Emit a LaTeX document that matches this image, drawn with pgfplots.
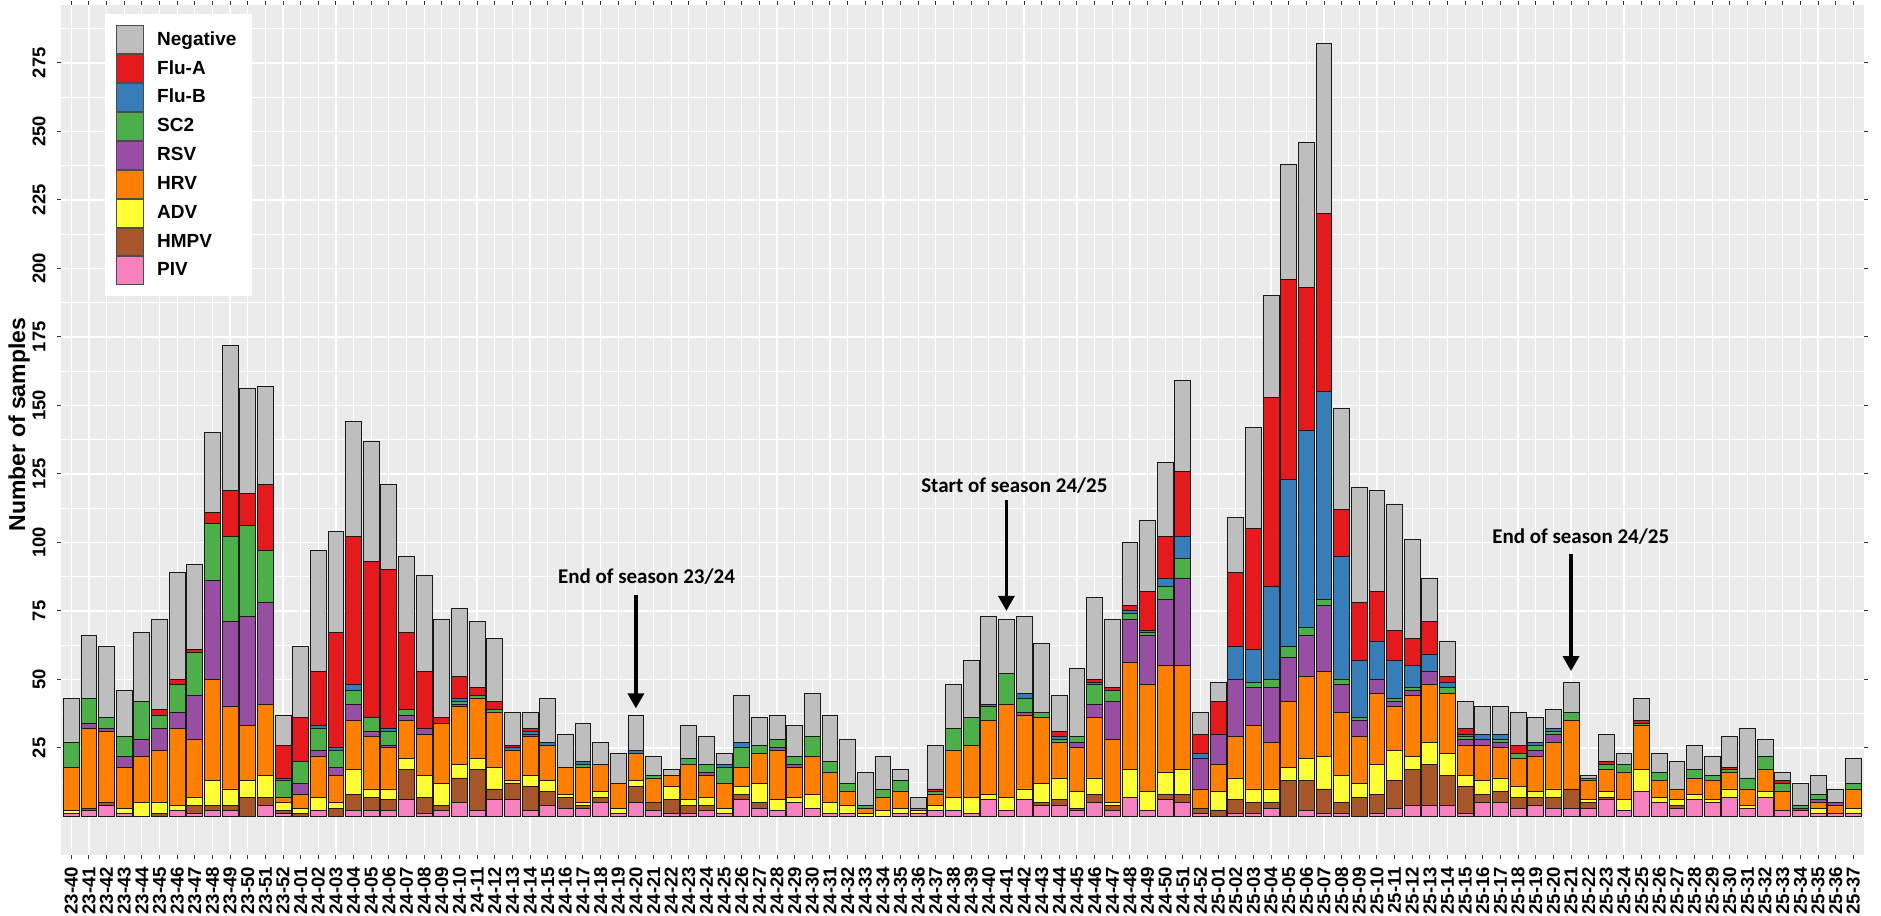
\documentclass[border=0pt]{standalone}
\usepackage{fontspec}
\setmainfont{Liberation Sans}
\newfontfamily\annofont{Carlito}
\usepackage{pgfplots}
\pgfplotsset{compat=1.18}
\usepackage{pgfplotstable}
\usetikzlibrary{arrows.meta}
\definecolor{cNeg}{HTML}{BEBEBE}
\definecolor{cFluA}{HTML}{E41A1C}
\definecolor{cFluB}{HTML}{377EB8}
\definecolor{cSC2}{HTML}{4DAF4A}
\definecolor{cRSV}{HTML}{984EA3}
\definecolor{cHRV}{HTML}{FF7F00}
\definecolor{cADV}{HTML}{FFFF33}
\definecolor{cHMPV}{HTML}{A65628}
\definecolor{cPIV}{HTML}{F781BF}
\definecolor{panel}{HTML}{EBEBEB}
\pgfplotstableread{
x piv hmpv adv hrv rsv sc2 flub flua neg
0 1 0 1 16 0 9 0 0 16
1 2 1 0 29 2 9 0 0 23
2 4 1 0 26 1 4 0 0 26
3 1 0 2 15 4 7 0 0 17
4 0 0 5 17 6 14 0 0 25
5 0 1 4 19 8 5 0 2 33
6 2 0 2 28 6 10 0 2 39
7 1 3 3 21 16 16 0 1 31
8 2 2 9 37 36 21 0 4 29
9 2 2 6 30 31 31 0 17 53
10 0 7 6 20 40 33 0 12 38
11 4 3 8 26 37 19 0 24 36
12 1 1 3 2 0 6 1 12 11
13 0 1 2 5 4 8 0 16 26
14 2 0 5 15 2 8 1 20 44
15 0 3 2 10 3 6 1 42 37
16 2 6 9 18 6 5 2 54 42
17 2 5 3 19 2 5 0 57 44
18 2 4 4 15 1 5 1 58 31
19 6 11 4 14 2 2 0 28 28
20 1 6 8 15 2 0 0 21 35
21 2 2 8 22 0 0 0 2 36
22 5 9 5 21 1 1 1 8 25
23 2 15 4 22 0 1 0 3 24
24 6 4 8 20 0 1 0 3 23
25 6 6 1 11 0 0 1 1 12
26 2 9 4 14 1 0 1 1 6
27 4 5 4 13 0 0 1 0 16
28 3 4 1 10 0 0 0 0 12
29 3 1 1 13 0 1 1 0 14
30 5 2 2 10 0 0 0 0 8
31 1 0 2 9 0 0 0 0 11
32 5 6 2 10 0 0 1 0 13
33 2 3 0 9 0 1 0 0 7
34 1 5 5 4 0 0 0 0 2
35 1 3 2 13 0 2 0 0 12
36 2 2 3 8 1 3 0 0 10
37 1 0 2 9 0 6 1 0 4
38 6 2 3 7 0 7 2 0 17
39 3 2 7 11 0 3 0 0 10
40 2 0 4 18 1 3 0 0 9
41 5 0 2 11 1 3 0 0 11
42 3 0 5 14 0 7 0 0 16
43 1 0 4 11 0 4 0 0 17
44 1 0 3 5 0 3 0 0 16
45 0 0 1 2 0 1 0 0 12
46 0 0 2 5 0 3 0 0 12
47 1 0 2 6 0 4 0 0 4
48 1 0 1 1 0 0 0 0 4
49 2 0 2 4 0 1 0 1 16
50 2 0 5 17 0 8 0 0 16
51 1 0 6 19 0 10 0 0 21
52 6 0 2 27 0 5 1 0 32
53 2 0 5 34 0 11 0 0 20
54 6 0 4 27 1 5 2 0 28
55 4 1 7 24 0 2 0 0 25
56 4 2 8 13 0 1 1 2 13
57 2 1 6 16 2 2 0 0 25
58 5 3 6 22 5 7 1 1 30
59 2 2 1 23 14 4 0 1 25
60 7 0 10 39 16 2 1 2 23
61 2 0 7 39 18 1 1 14 26
62 6 2 8 39 24 5 3 15 27
63 5 3 9 38 32 7 8 24 33
64 1 2 0 7 11 0 2 7 8
65 0 2 7 10 11 0 0 12 7
66 1 5 8 15 21 0 12 27 20
67 1 4 5 23 14 2 12 44 37
68 3 2 5 17 20 3 34 69 37
69 0 13 5 24 16 4 61 73 42
70 2 11 8 30 15 3 72 52 53
71 1 9 12 31 24 2 76 65 62
72 1 4 10 23 10 2 45 17 37
73 0 7 5 17 6 1 21 21 42
74 1 7 11 26 5 0 14 18 37
75 3 10 11 16 2 1 14 11 46
76 4 13 5 22 2 1 8 10 36
77 4 15 8 21 5 0 6 12 16
78 4 11 8 22 0 2 2 2 13
79 1 10 4 11 2 1 1 2 10
80 5 3 5 13 2 0 2 0 10
81 5 4 5 11 2 1 2 0 10
82 3 4 4 10 0 2 0 3 12
83 4 3 2 13 2 2 1 0 9
84 3 4 3 17 3 1 1 0 7
85 3 7 0 25 0 3 0 0 11
86 3 2 1 7 0 1 0 0 1
87 6 1 2 8 0 2 0 1 10
88 2 0 4 10 0 3 0 0 4
89 9 0 8 16 0 1 0 1 8
90 5 0 2 6 0 3 0 0 7
91 3 1 2 4 0 0 0 0 10
92 6 0 2 6 0 3 0 0 9
93 5 0 1 7 0 2 0 0 7
94 7 0 3 6 0 1 0 1 11
95 3 0 1 6 0 4 0 0 18
96 7 0 2 8 0 5 0 0 6
97 2 0 0 7 0 3 0 1 3
98 2 1 0 0 0 1 0 0 8
99 1 0 2 2 1 2 0 0 7
100 1 0 0 3 1 0 0 0 5
101 1 0 2 7 0 2 0 0 9
}\data
\pgfplotsset{
  mylegimg/.style={legend image code/.code={\draw[##1, draw=black!70, line width=0.5pt] (0pt,-6.97pt) rectangle (13.2pt,6.97pt);}},
  segstyle/.style={draw=black!90, line width=0.45pt, mylegimg},
}
\begin{document}
\begin{tikzpicture}
\begin{axis}[
  name=ax,
  scale only axis,
  width=901.6pt, height=425pt,
  xmin=-0.6, xmax=101.6, ymin=-14.1, ymax=296.1,
  clip mode=individual,
  ybar stacked, bar width=0.9,
  axis background/.style={fill=panel},
  axis line style={draw=none},
  xtick={0,...,101},
  xticklabels={23-40,23-41,23-42,23-43,23-44,23-45,23-46,23-47,23-48,23-49,23-50,23-51,23-52,
    24-01,24-02,24-03,24-04,24-05,24-06,24-07,24-08,24-09,24-10,24-11,24-12,24-13,24-14,24-15,24-16,24-17,24-18,24-19,24-20,24-21,24-22,24-23,24-24,24-25,24-26,24-27,24-28,24-29,24-30,24-31,24-32,24-33,24-34,24-35,24-36,24-37,24-38,24-39,24-40,24-41,24-42,24-43,24-44,24-45,24-46,24-47,24-48,24-49,24-50,24-51,24-52,
    25-01,25-02,25-03,25-04,25-05,25-06,25-07,25-08,25-09,25-10,25-11,25-12,25-13,25-14,25-15,25-16,25-17,25-18,25-19,25-20,25-21,25-22,25-23,25-24,25-25,25-26,25-27,25-28,25-29,25-30,25-31,25-32,25-33,25-34,25-35,25-36,25-37},
  ytick={25,50,75,100,125,150,175,200,225,250,275},
  yticklabels={25,50,75,100,125,150,175,200,225,250,275},
  minor ytick={0,12.5,...,287.5},
  xmajorgrids=true, ymajorgrids=true, yminorgrids=true,
  major grid style={white, line width=0.6pt},
  minor grid style={white, line width=0.3pt},
  tick align=outside,
  major tick length=2pt,
  minor tick length=0pt,
  tick style={draw=black!80, line width=0.5pt},
  xticklabel style={yshift=-3.85pt, rotate=90, anchor=east, inner sep=0pt, font=\fontsize{9.3}{10}\selectfont\bfseries},
  yticklabel style={xshift=-5.35pt, rotate=90, anchor=south, inner sep=0pt, font=\fontsize{9.2}{10}\selectfont\bfseries},
  legend style={at={(rel axis cs:0,1)}, anchor=north west, xshift=21.8pt, yshift=-4.5pt,
    draw=none, fill=white, inner xsep=5.85pt, inner ysep=5.5pt, row sep=0pt,
    font=\fontsize{9.5}{11}\selectfont\bfseries,
    /tikz/every odd column/.style={column sep=4.7pt}},
  legend cell align=left,
  reverse legend,
]
\addplot[segstyle, fill=cPIV] table[x=x,y=piv]{\data}; \addlegendentry{PIV}
\addplot[segstyle, fill=cHMPV] table[x=x,y=hmpv]{\data}; \addlegendentry{HMPV}
\addplot[segstyle, fill=cADV] table[x=x,y=adv]{\data}; \addlegendentry{ADV}
\addplot[segstyle, fill=cHRV] table[x=x,y=hrv]{\data}; \addlegendentry{HRV}
\addplot[segstyle, fill=cRSV] table[x=x,y=rsv]{\data}; \addlegendentry{RSV}
\addplot[segstyle, fill=cSC2] table[x=x,y=sc2]{\data}; \addlegendentry{SC2}
\addplot[segstyle, fill=cFluB] table[x=x,y=flub]{\data}; \addlegendentry{Flu-B}
\addplot[segstyle, fill=cFluA] table[x=x,y=flua]{\data}; \addlegendentry{Flu-A}
\addplot[segstyle, fill=cNeg] table[x=x,y=neg]{\data}; \addlegendentry{Negative}
\draw[line width=1.65pt, -{Triangle[width=8pt,length=7.5pt]}] (axis cs:32,80.8) -- (axis cs:32,39.4);
\draw[line width=1.65pt, -{Triangle[width=8pt,length=7.5pt]}] (axis cs:53,115.4) -- (axis cs:53,75);
\draw[line width=1.65pt, -{Triangle[width=8pt,length=7.5pt]}] (axis cs:85,95.6) -- (axis cs:85,53);
\node[anchor=base, inner sep=0pt, font=\annofont\bfseries\fontsize{10.5}{12}\selectfont] at (axis cs:32.6,85) {End of season 23/24};
\node[anchor=base, inner sep=0pt, font=\annofont\bfseries\fontsize{10.5}{12}\selectfont] at (axis cs:53.45,118.3) {Start of season 24/25};
\node[anchor=base, inner sep=0pt, font=\annofont\bfseries\fontsize{10.5}{12}\selectfont] at (axis cs:85.55,99.5) {End of season 24/25};
\node[rotate=90, inner sep=0pt, font=\fontsize{11.5}{13}\selectfont\bfseries] at ([xshift=-20.8pt]axis cs:-0.6,143) {Number of samples};
\end{axis}
\pgfresetboundingbox
\path ([shift={(-30.35pt,-30.5pt)}]ax.south west) rectangle ([shift={(8.55pt,2.5pt)}]ax.north east);
\end{tikzpicture}
\end{document}
